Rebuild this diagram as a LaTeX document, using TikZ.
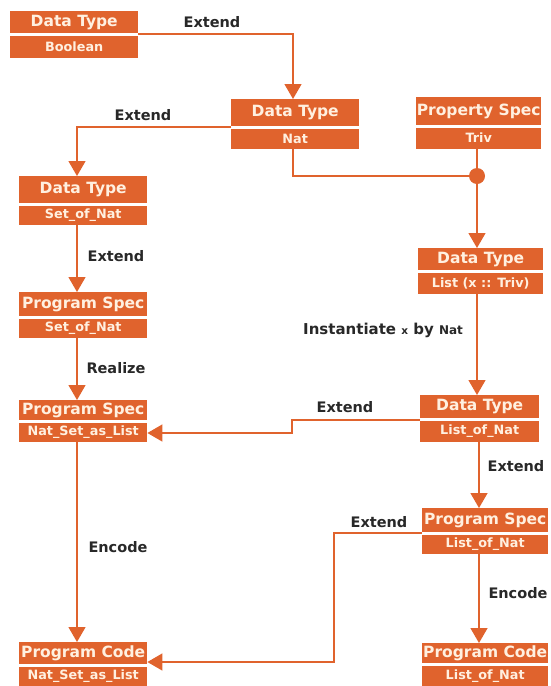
\documentclass[tikz,border=0pt]{standalone}
\usepackage{fontspec}
\setmainfont{DejaVu Sans}
\usetikzlibrary{arrows.meta}
\definecolor{org}{RGB}{224,99,45}
\definecolor{cream}{RGB}{255,240,224}
\definecolor{lbl}{RGB}{40,40,40}
\newcommand\obox[8]{%
  \node[ttl, minimum width=#4, minimum height=#5, anchor=north west] (#1-t) at (#2,#3) {#7};
  \node[nmr, minimum width=#4, minimum height=#6, anchor=north west] (#1-n) at ([yshift=-2pt]#1-t.south west) {#8};
}
\begin{document}
\begin{tikzpicture}[x=1pt,y=-1pt,
  ttl/.style={fill=org, text=cream, inner sep=0pt, font=\bfseries\fontsize{15.5}{16}\selectfont},
  nmr/.style={fill=org, text=cream, inner sep=0pt, font=\bfseries\fontsize{12.8}{13}\selectfont},
  conn/.style={draw=org, line width=1.4pt},
  arr/.style={conn, -{Triangle[length=15pt,width=17pt]}},
  lab/.style={text=lbl, inner sep=0pt, font=\bfseries\fontsize{14.5}{15}\selectfont}]
\useasboundingbox (0,0) rectangle (550,686);
\obox{bool}{10}{11}{128}{22}{22}{Data Type}{Boolean}
\obox{nat}{231}{99}{128}{27}{20}{Data Type}{Nat}
\obox{triv}{416}{97}{125}{28}{21}{Property Spec}{Triv}
\obox{son}{19}{176}{128}{27}{19}{Data Type}{Set\_of\_Nat}
\obox{list}{418}{248}{125}{22}{21}{Data Type}{List (x :: Triv)}
\obox{pson}{19}{292}{128}{24}{19}{Program Spec}{Set\_of\_Nat}
\obox{psnsl}{19}{400}{128}{20}{19}{Program Spec}{Nat\_Set\_as\_List}
\obox{dtlon}{420}{395}{119}{23}{21}{Data Type}{List\_of\_Nat}
\obox{pslon}{422}{508}{126}{24}{19}{Program Spec}{List\_of\_Nat}
\obox{pcnsl}{19}{642}{128}{22}{20}{Program Code}{Nat\_Set\_as\_List}
\obox{pclon}{422}{643}{126}{20}{21}{Program Code}{List\_of\_Nat}
\coordinate (c1) at (293,34);
\coordinate (c2) at (77,127);
\coordinate (j) at (477,176);
\coordinate (c3) at (293,176);
\coordinate (c4) at (292,420);
\coordinate (c5) at (292,433);
\coordinate (c6) at (334,533);
\coordinate (c7) at (334,662);
% connectors
\draw[arr] (bool-t.east |- c1) -- (c1) -- (c1 |- nat-t.north);
\draw[arr] (nat-t.west |- c2) -- (c2) -- (c2 |- son-t.north);
\draw[conn] (c3 |- nat-n.south) -- (c3) -- (j);
\draw[conn] (j |- triv-n.south) -- (j);
\draw[arr] (j) -- (j |- list-t.north);
\fill[org] (j) circle (8);
\draw[arr] (j |- list-n.south) -- (j |- dtlon-t.north);
\draw[arr] (c2 |- son-n.south) -- (c2 |- pson-t.north);
\draw[arr] (c2 |- pson-n.south) -- (c2 |- psnsl-t.north);
\draw[arr] (dtlon-t.west |- c4) -- (c4) -- (c5) -- (psnsl-n.east |- c5);
\draw[arr] (479,441) -- (479,508);
\draw[arr] (pslon-t.west |- c6) -- (c6) -- (c7) -- (pcnsl-t.east |- c7);
\draw[arr] (c2 |- psnsl-n.south) -- (c2 |- pcnsl-t.north);
\draw[arr] (479,553) -- (479,643);
% labels
\node[lab] (l1) at (212,22) {Extend};
\node[lab] (l2) at (143,115) {Extend};
\node[lab] (l3) at (116,256) {Extend};
\node[lab] (l4) at (116,368) {Realize};
\node[lab, anchor=west] (l5) at (303,330) {\fontsize{15}{15}\selectfont Instantiate {\fontsize{10.5}{10}\selectfont x} by {\fontsize{12}{12}\selectfont Nat}};
\node[lab] (l6) at (345,407) {Extend};
\node[lab] (l7) at (516,466) {Extend};
\node[lab] (l8) at (379,522) {Extend};
\node[lab] (l9) at (118,547) {Encode};
\node[lab] (l10) at (518,593) {Encode};
\end{tikzpicture}
\end{document}
